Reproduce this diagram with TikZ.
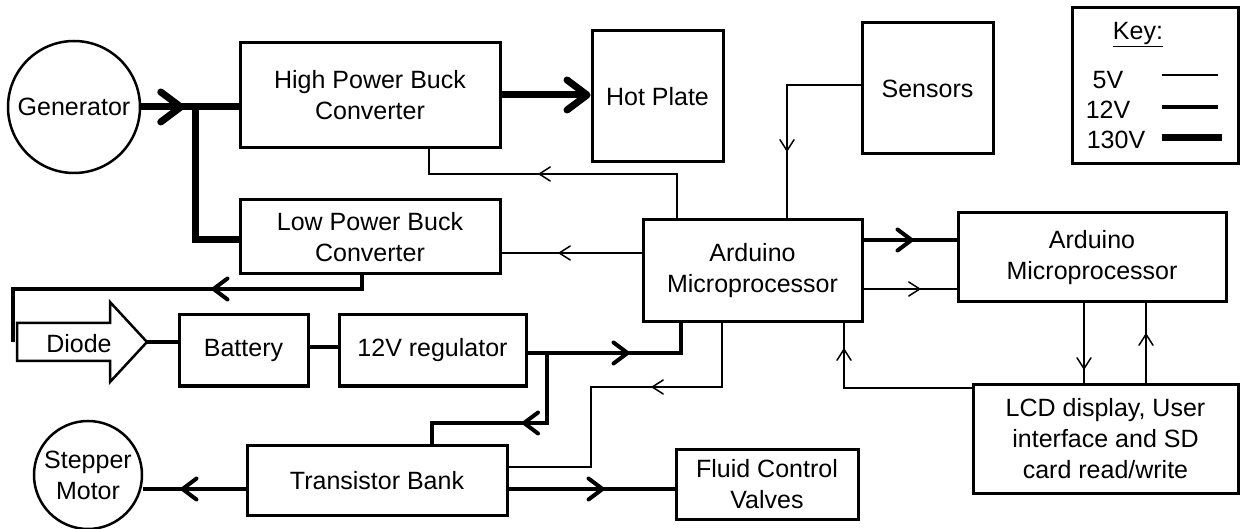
\documentclass[tikz,border=0pt]{standalone}
\usepackage{fontspec}
\setmainfont{Liberation Sans}
\usetikzlibrary{arrows.meta,decorations.markings}
\tikzset{
  tip5/.tip={Straight Barb[length=11bp,width=14bp,line width=1.5bp,round]},
  tip12/.tip={Straight Barb[length=14bp,width=21bp,line width=4bp,round]},
  tip130/.tip={Straight Barb[length=20bp,width=30bp,line width=7bp,round]},
  w5/.style={line width=1.5bp},
  w12/.style={line width=4bp},
  w130/.style={line width=7bp},
  a5/.style={postaction={decorate,decoration={markings,mark=at position #1 with {\arrow{tip5}}}}},
  a12/.style={postaction={decorate,decoration={markings,mark=at position #1 with {\arrow{tip12}}}}},
  a130/.style={postaction={decorate,decoration={markings,mark=at position #1 with {\arrow{tip130}}}}},
  box/.style={draw,line width=3bp,rectangle,align=center,inner sep=0pt},
  circ/.style={draw,line width=2.5bp,circle,align=center,inner sep=0pt},
}
\begin{document}
\begin{tikzpicture}[x=1bp,y=-1bp,font=\fontsize{25bp}{31bp}\selectfont]
\useasboundingbox (0,0) rectangle (1240,529);
% nodes
\node[circ,minimum size=132bp] (gen) at (74,107) {Generator};
\node[box,minimum width=260bp,minimum height=105bp] (hpbc) at (370,95.5) {High Power Buck\\Converter};
\node[box,minimum width=260bp,minimum height=74bp] (lpbc) at (370,237) {Low Power Buck\\Converter};
\node[box,minimum width=131bp,minimum height=131bp] (hot) at (657.5,96.5) {Hot Plate};
\node[box,minimum width=131bp,minimum height=131bp] (sens) at (927.5,88.5) {Sensors};
\node[box,minimum width=166bp,minimum height=156bp] (key) at (1155,86) {};
\node[box,minimum width=219bp,minimum height=102bp] (ard1) at (752.5,271) {Arduino\\Microprocessor};
\node[box,minimum width=268bp,minimum height=89bp] (ard2) at (1092,257.5) {Arduino\\Microprocessor};
\node[box,minimum width=265bp,minimum height=108bp] (lcd) at (1105.5,439) {LCD display, User\\interface and SD\\card read/write};
\node[box,minimum width=129bp,minimum height=71bp] (batt) at (243.5,350.5) {Battery};
\node[box,minimum width=187bp,minimum height=71bp] (reg) at (432.5,350.5) {12V regulator};
\node[box,minimum width=260bp,minimum height=69bp] (tb) at (377,480.5) {Transistor Bank};
\node[box,minimum width=182bp,minimum height=69bp] (fcv) at (767,484.5) {Fluid Control\\Valves};
\node[circ,minimum size=108bp] (step) at (88,475) {Stepper\\Motor};
% diode
\draw[line width=2.5bp] (17,323) -- (110,323) -- (110,302) -- (147,342) -- (110,382) -- (110,361) -- (17,361) -- cycle;
\coordinate (dtip) at (147,342);
\node[anchor=base,inner sep=0pt] (diode) at (79,353) {Diode};
% key
\node[anchor=base,inner sep=0pt] (keyt) at (1138,40) {\underline{Key:}};
\node[anchor=base,inner sep=0pt] (k5) at (1108,89) {5V};
\node[anchor=base,inner sep=0pt] (k12) at (1108,119) {12V};
\node[anchor=base,inner sep=0pt] (k130) at (1116,149) {130V};
\draw[w5] (1162,75) -- (1218,75);
\draw[w12] (1162,107) -- (1218,107);
\draw[w130] (1162,138) -- (1222,138);
% helper coordinates
\coordinate (j1) at (195,107);
\coordinate (y95) at (0,95);
\coordinate (y240) at (0,240);
\coordinate (y253) at (0,253);
\coordinate (y289) at (0,289);
\coordinate (y347) at (0,347);
\coordinate (y489) at (0,489);
\coordinate (x1084) at (1084,0);
\coordinate (x1146) at (1146,0);
\coordinate (b4a) at (677,174);
\coordinate (b4b) at (429,174);
\coordinate (b6) at (787,85);
\coordinate (b11) at (844,388);
\coordinate (b12) at (681,353);
\coordinate (b13a) at (547,353);
\coordinate (b13b) at (547,423);
\coordinate (b13c) at (432,423);
\coordinate (b14a) at (722,387);
\coordinate (b14b) at (591,387);
\coordinate (b14c) at (591,467);
\coordinate (b17a) at (362,289);
\coordinate (b17b) at (13,289);
\coordinate (b17c) at (13,342);
% connectors
\draw[w130,a130=43bp] (gen.east) -- (gen.east -| hpbc.west);
\draw[w130] (j1) |- (lpbc.west |- y240);
\draw[w130,-{tip130}] (hpbc.east |- y95) -- (hot.west |- y95);
\draw[w5,a5=183bp] (ard1.north -| b4a) -- (b4a) -- (b4b) -- (hpbc.south -| b4b);
\draw[w5,a5=83bp] (ard1.west |- y253) -- (lpbc.east |- y253);
\draw[w5,a5=140bp] (sens.west |- b6) -- (b6) -- (ard1.north -| b6);
\draw[w12,a12=50bp] (ard1.east |- y240) -- (ard2.west |- y240);
\draw[w5,a5=57bp] (ard1.east |- y289) -- (ard2.west |- y289);
\draw[w5,a5=66bp] (ard2.south -| x1084) -- (lcd.north -| x1084);
\draw[w5,a5=50bp] (lcd.north -| x1146) -- (ard2.south -| x1146);
\draw[w5,a5=167bp] (lcd.west |- b11) -- (b11) -- (ard1.south -| b11);
\draw[w12,a12=102bp] (reg.east |- b12) -- (b12) -- (ard1.south -| b12);
\draw[w12,a12=95bp] (b13a) -- (b13b) -- (b13c) -- (tb.north -| b13c);
\draw[w5,a5=134bp] (ard1.south -| b14a) -- (b14a) -- (b14b) -- (b14c) -- (tb.east |- b14c);
\draw[w12,a12=96bp] (tb.east |- y489) -- (fcv.west |- y489);
\draw[w12,a12=65bp] (tb.west |- y489) -- (step.east |- y489);
\draw[w12,a12=164bp] (lpbc.south -| b17a) -- (b17a) -- (b17b) -- (b17c);
\draw[w12] (dtip) -- (batt.west |- dtip);
\draw[w12] (batt.east |- y347) -- (reg.west |- y347);
\end{tikzpicture}
\end{document}
